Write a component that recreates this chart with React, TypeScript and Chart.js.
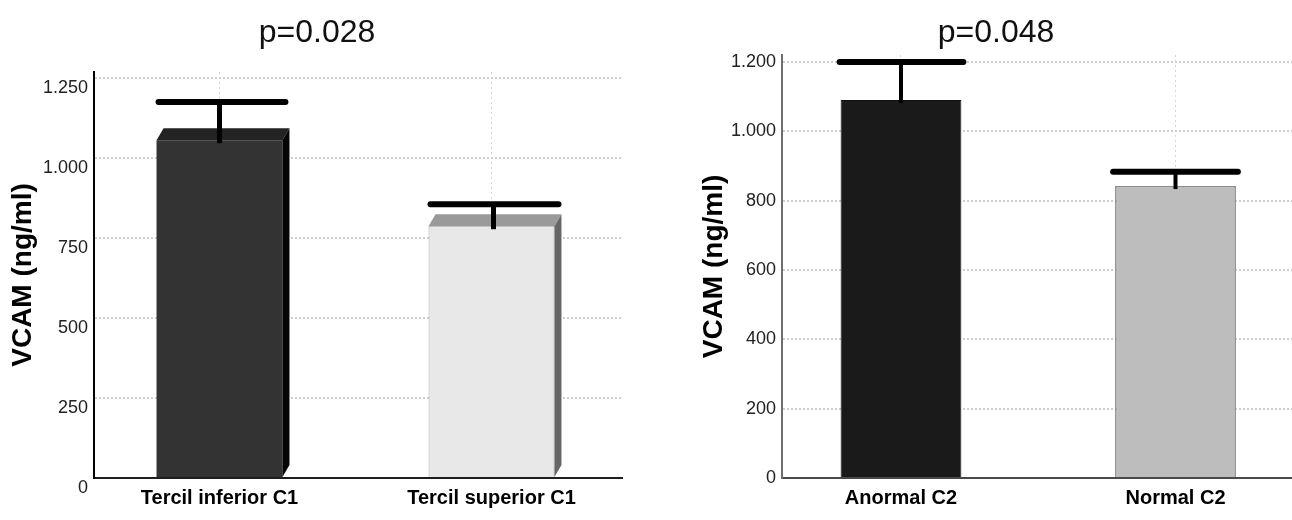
import React, { useEffect, useRef } from 'react';
import { Chart, registerables } from 'chart.js';

Chart.register(...registerables);

// ---------- data ----------
const leftCategories = ['Tercil inferior C1', 'Tercil superior C1'];
const leftMeans = [1056, 787];
const leftErrors = [119, 69];
const leftTickValues = [0, 250, 500, 750, 1000, 1250];
const leftTickLabels = ['0', '250', '500', '750', '1.000', '1.250'];
const leftTitle = 'p=0.028';

const rightCategories = ['Anormal C2', 'Normal C2'];
const rightMeans = [1090, 842];
const rightErrors = [110, 41];
const rightTickValues = [0, 200, 400, 600, 800, 1000, 1200];
const rightTickLabels = ['0', '200', '400', '600', '800', '1.000', '1.200'];
const rightTitle = 'p=0.048';

const yAxisTitle = 'VCAM (ng/ml)';

// ---------- styles ----------
const FONT = "'Liberation Sans', Arial, Helvetica, sans-serif";

const leftStyle = {
  fill: ['#333333', '#e8e8e8'],
  border: ['#2a2a2a', '#a8a8a8'],
  borderWidth: [0, 1],
  top: ['#232323', '#9a9a9a'],
  side: ['#050505', '#666666'],
  axisColor: '#000000',
  xAxisColor: '#1e1e1e',
  threeD: true,
  stemShift: [0, 2],
  capL: [2, 2],
  capR: [3, 4],
  stemWidth: 5,
  capWidth: 6,
};
const rightStyle = {
  fill: ['#1a1a1a', '#bdbdbd'],
  border: ['#111111', '#8a8a8a'],
  borderWidth: [1, 1.5],
  top: [],
  side: [],
  axisColor: '#6f6f6f',
  xAxisColor: '#4a4a4a',
  threeD: false,
  stemShift: [0, 0],
  capL: [-1, -2],
  capR: [2, 2],
  stemWidth: 4,
  capWidth: 6,
};

const leftGeom = {
  padLeft: 0, padTop: 72, padRight: 24,
  yWidth: 94, xHeight: 42,
  yMax: 1269, xMin: -0.4614, xMax: 1.4798,
  barPct: 0.463, labelOffset: 10, titlePad: 6.7,
};
const rightGeom = {
  padLeft: 47, padTop: 55, padRight: 0,
  yWidth: 89, xHeight: 42,
  yMax: 1220, xMin: -0.4335, xMax: 1.4244,
  barPct: 0.44, labelOffset: 0, titlePad: 4,
};

function makeConfig(categories: string[], means: number[], errors: number[],
  tickValues: number[], tickLabels: string[], geom: any, style: any): any {
  const decorPlugin = {
    id: 'decor',
    afterDatasetsDraw(chart: any) {
      const ctx = chart.ctx;
      const meta = chart.getDatasetMeta(0);
      const yScale = chart.scales.y;
      meta.data.forEach((bar: any, i: number) => {
        const p = bar.getProps(['x', 'y', 'base', 'width'], true);
        const L = p.x - p.width / 2;
        const R = p.x + p.width / 2;
        if (style.threeD) {
          const dx = 7, dy = 12;
          ctx.save();
          ctx.fillStyle = style.top[i];
          ctx.beginPath();
          ctx.moveTo(L, p.y);
          ctx.lineTo(R, p.y);
          ctx.lineTo(R + dx, p.y - dy);
          ctx.lineTo(L + dx, p.y - dy);
          ctx.closePath();
          ctx.fill();
          ctx.fillStyle = style.side[i];
          ctx.beginPath();
          ctx.moveTo(R, p.y);
          ctx.lineTo(R + dx, p.y - dy);
          ctx.lineTo(R + dx, p.base - dy);
          ctx.lineTo(R, p.base);
          ctx.closePath();
          ctx.fill();
          ctx.restore();
        }
        const topY = yScale.getPixelForValue(means[i] + errors[i]);
        const sx = p.x + style.stemShift[i];
        ctx.save();
        ctx.strokeStyle = '#000';
        ctx.lineWidth = style.stemWidth;
        ctx.beginPath();
        ctx.moveTo(sx, p.y + 3);
        ctx.lineTo(sx, topY);
        ctx.stroke();
        ctx.lineWidth = style.capWidth;
        ctx.lineCap = 'round';
        ctx.beginPath();
        ctx.moveTo(L + style.capL[i], topY);
        ctx.lineTo(R + style.capR[i], topY);
        ctx.stroke();
        ctx.restore();
      });
    },
  };

  return {
    type: 'bar',
    data: {
      datasets: [{
        data: means.map((m, i) => ({ x: i, y: m })),
        backgroundColor: style.fill,
        borderColor: style.border,
        borderWidth: style.borderWidth,
        barPercentage: geom.barPct,
        categoryPercentage: 1,
      }],
    },
    options: {
      responsive: false,
      animation: false,
      events: [],
      layout: { padding: { left: geom.padLeft, top: geom.padTop, right: geom.padRight, bottom: 0 } },
      plugins: { legend: { display: false }, tooltip: { enabled: false }, title: { display: false } },
      scales: {
        x: {
          type: 'linear',
          offset: false,
          min: geom.xMin,
          max: geom.xMax,
          afterBuildTicks: (s: any) => { s.ticks = categories.map((_, i) => ({ value: i })); },
          afterFit: (s: any) => { s.height = geom.xHeight; },
          ticks: {
            callback: (v: any) => categories[Math.round(v)] ?? '',
            font: { family: FONT, size: 20, weight: 'bold' },
            color: '#000',
            padding: 8,
            autoSkip: false,
            maxRotation: 0,
          },
          grid: { offset: false, color: '#d6d6d6', lineWidth: 1, drawTicks: false },
          border: { color: style.xAxisColor, width: 2, dash: [2, 3] },
        },
        y: {
          min: 0,
          max: geom.yMax,
          afterBuildTicks: (s: any) => { s.ticks = tickValues.map((v) => ({ value: v })); },
          afterFit: (s: any) => { s.width = geom.yWidth; },
          ticks: {
            callback: (v: any) => tickLabels[tickValues.indexOf(v)] ?? '',
            font: { family: FONT, size: 18 },
            color: '#222',
            padding: 6,
            labelOffset: geom.labelOffset,
          },
          grid: {
            color: (c: any) => (c.tick && c.tick.value === 0 ? 'rgba(0,0,0,0)' : '#cdcdcd'),
            lineWidth: 2,
            drawTicks: false,
          },
          border: { color: style.axisColor, width: 2, dash: [2, 2] },
          title: {
            display: true,
            text: yAxisTitle,
            font: { family: FONT, size: 28, weight: 'bold' },
            color: '#000',
            padding: { top: geom.titlePad, bottom: 0 },
          },
        },
      },
    },
    plugins: [decorPlugin],
  };
}

function Panel(props: any) {
  const ref = useRef<HTMLCanvasElement | null>(null);
  useEffect(() => {
    if (!ref.current) return;
    const chart = new Chart(ref.current, makeConfig(props.categories, props.means, props.errors,
      props.tickValues, props.tickLabels, props.geom, props.style));
    return () => chart.destroy();
  }, []);
  return (
    <div style={{ position: 'absolute', left: props.left, top: 0, width: 646, height: 520 }}>
      <canvas ref={ref} width={646} height={520} style={{ display: 'block' }} />
    </div>
  );
}

const titleStyle = (cx: number): React.CSSProperties => ({
  position: 'absolute', left: cx - 120, top: 11, width: 240, height: 40,
  lineHeight: '40px', textAlign: 'center', fontFamily: FONT, fontSize: 32, color: '#111',
  whiteSpace: 'nowrap',
});

export default function App() {
  return (
    <div style={{ position: 'fixed', left: 0, top: 0, width: 1292, height: 520, background: '#fff', overflow: 'hidden' }}>
      <Panel left={0} categories={leftCategories} means={leftMeans} errors={leftErrors}
        tickValues={leftTickValues} tickLabels={leftTickLabels} geom={leftGeom} style={leftStyle} />
      <Panel left={646} categories={rightCategories} means={rightMeans} errors={rightErrors}
        tickValues={rightTickValues} tickLabels={rightTickLabels} geom={rightGeom} style={rightStyle} />
      <div style={titleStyle(317)}>{leftTitle}</div>
      <div style={titleStyle(996)}>{rightTitle}</div>
    </div>
  );
}
